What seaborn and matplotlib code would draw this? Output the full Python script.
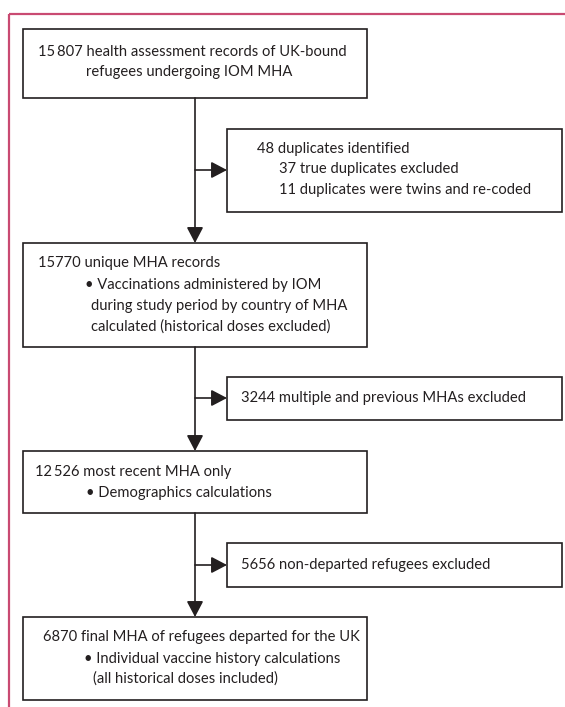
import matplotlib
matplotlib.use("Agg")
from matplotlib import pyplot as plt
from matplotlib.patches import Rectangle
import seaborn as sns

# flow-chart content
main_labels = [
    ["15\u2009807 health assessment records of UK-bound", "refugees undergoing IOM MHA"],
    ["15770 unique MHA records", "\u2022 Vaccinations administered by IOM",
     "during study period by country of MHA", "calculated (historical doses excluded)"],
    ["12\u2009526 most recent MHA only", "\u2022 Demographics calculations"],
    ["6870 final MHA of refugees departed for the UK", "\u2022 Individual vaccine history calculations",
     "(all historical doses included)"],
]
side_labels = [
    ["48 duplicates identified", "37 true duplicates excluded", "11 duplicates were twins and re-coded"],
    ["3244 multiple and previous MHAs excluded"],
    ["5656 non-departed refugees excluded"],
]

# layout (pixels, y downwards)
main_y = [(29, 98), (243, 347), (451, 513), (617, 700)]
main_x = (23, 367)
main_text_x = [[38, 86], [38, 85, 91, 91], [35, 86], [43, 84, 93]]
main_text_y = [[52, 72], [263, 285, 306, 327], [472, 493], [637, 659, 679]]
side_y = [(129, 212), (377, 420), (543, 587)]
side_x = (227, 562)
side_text_x = [[257, 279, 279], [241], [241]]
side_text_y = [[149, 169, 190], [398], [565]]
branch_y = [170, 398, 565]
cx = 195

sns.set_theme(style="white")
plt.rcParams["font.family"] = ["Lato", "DejaVu Sans"]
ink = "#231f20"
pink = "#c94a72"
fs = 10.6

fig = plt.figure(figsize=(5.65, 7.07), dpi=100)
ax = fig.add_axes([0, 0, 1, 1])
ax.set_xlim(0, 565)
ax.set_ylim(707, 0)
ax.axis("off")

# frame
ax.plot([9, 565], [13.5, 13.5], color=pink, lw=1.6, solid_capstyle="butt")
ax.plot([9, 9], [13.5, 707], color=pink, lw=1.6, solid_capstyle="butt")

def box(x0, x1, y0, y1):
    ax.add_patch(Rectangle((x0, y0), x1 - x0, y1 - y0, fill=False, ec=ink, lw=1.2))

def arrow(x0, y0, x1, y1):
    ax.annotate("", xy=(x1, y1), xytext=(x0, y0),
                arrowprops=dict(arrowstyle="-|>,head_length=0.8,head_width=0.42",
                                color=ink, lw=1.2, shrinkA=0, shrinkB=0))

for (y0, y1), lines, xs, ys in zip(main_y, main_labels, main_text_x, main_text_y):
    box(main_x[0], main_x[1], y0, y1)
    for t, x, y in zip(lines, xs, ys):
        ax.text(x, y, t, ha="left", va="center", fontsize=fs, color=ink)

for (y0, y1), lines, xs, ys in zip(side_y, side_labels, side_text_x, side_text_y):
    box(side_x[0], side_x[1], y0, y1)
    for t, x, y in zip(lines, xs, ys):
        ax.text(x, y, t, ha="left", va="center", fontsize=fs, color=ink)

for i in range(3):
    arrow(cx, main_y[i][1], cx, main_y[i + 1][0])
    arrow(cx, branch_y[i], side_x[0], branch_y[i])

fig.savefig("out.png", dpi=100)
